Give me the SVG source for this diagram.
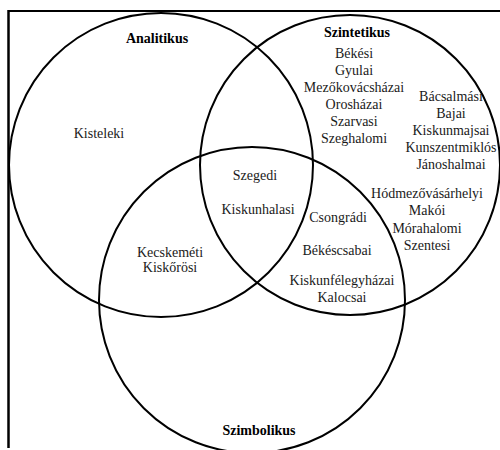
<svg xmlns="http://www.w3.org/2000/svg" width="500" height="450" viewBox="0 0 500 450">
<style>
.c{fill:none;stroke:#000;stroke-width:2}
.t{font-family:'Liberation Serif','Times New Roman',Tinos,'DejaVu Serif',serif;font-size:14px;fill:#1a1a1a;text-anchor:middle}
.h{font-family:'Liberation Serif','Times New Roman',Tinos,'DejaVu Serif',serif;font-size:14px;font-weight:bold;fill:#000;text-anchor:middle}
</style>
<rect width="500" height="450" fill="#fff"/>
<g id="frame">
<line x1="8.5" y1="11" x2="500" y2="11" stroke="#000" stroke-width="2"/>
<line x1="8.5" y1="10" x2="8.5" y2="448" stroke="#000" stroke-width="2.5"/>
</g>
<g id="analitikus">
<circle class="c" cx="161" cy="165" r="152"/>
<text class="h" x="157" y="43">Analitikus</text>
<text class="t" x="99" y="138">Kisteleki</text>
</g>
<g id="szintetikus">
<circle class="c" cx="350" cy="165" r="150"/>
<text class="h" x="357" y="37">Szintetikus</text>
<text class="t" x="354" y="58">Békési</text>
<text class="t" x="354" y="75">Gyulai</text>
<text class="t" x="354" y="92">Mezőkovácsházai</text>
<text class="t" x="354" y="109">Orosházai</text>
<text class="t" x="354" y="126">Szarvasi</text>
<text class="t" x="354" y="143">Szeghalomi</text>
<text class="t" x="451" y="101">Bácsalmási</text>
<text class="t" x="451" y="118">Bajai</text>
<text class="t" x="451" y="135">Kiskunmajsai</text>
<text class="t" x="451" y="152">Kunszentmiklós</text>
<text class="t" x="451" y="169">Jánoshalmai</text>
<text class="t" x="427" y="198">Hódmezővásárhelyi</text>
<text class="t" x="427" y="215">Makói</text>
<text class="t" x="427" y="233">Mórahalomi</text>
<text class="t" x="427" y="250">Szentesi</text>
</g>
<g id="szimbolikus">
<circle class="c" cx="252" cy="300" r="153"/>
<text class="h" x="259" y="435">Szimbolikus</text>
</g>
<g id="overlaps">
<text class="t" x="255" y="180">Szegedi</text>
<text class="t" x="258" y="214">Kiskunhalasi</text>
<text class="t" x="338" y="222">Csongrádi</text>
<text class="t" x="337" y="255">Békéscsabai</text>
<text class="t" x="342" y="285">Kiskunfélegyházai</text>
<text class="t" x="342" y="302">Kalocsai</text>
<text class="t" x="170" y="257">Kecskeméti</text>
<text class="t" x="170" y="272">Kiskőrösi</text>
</g>
</svg>
